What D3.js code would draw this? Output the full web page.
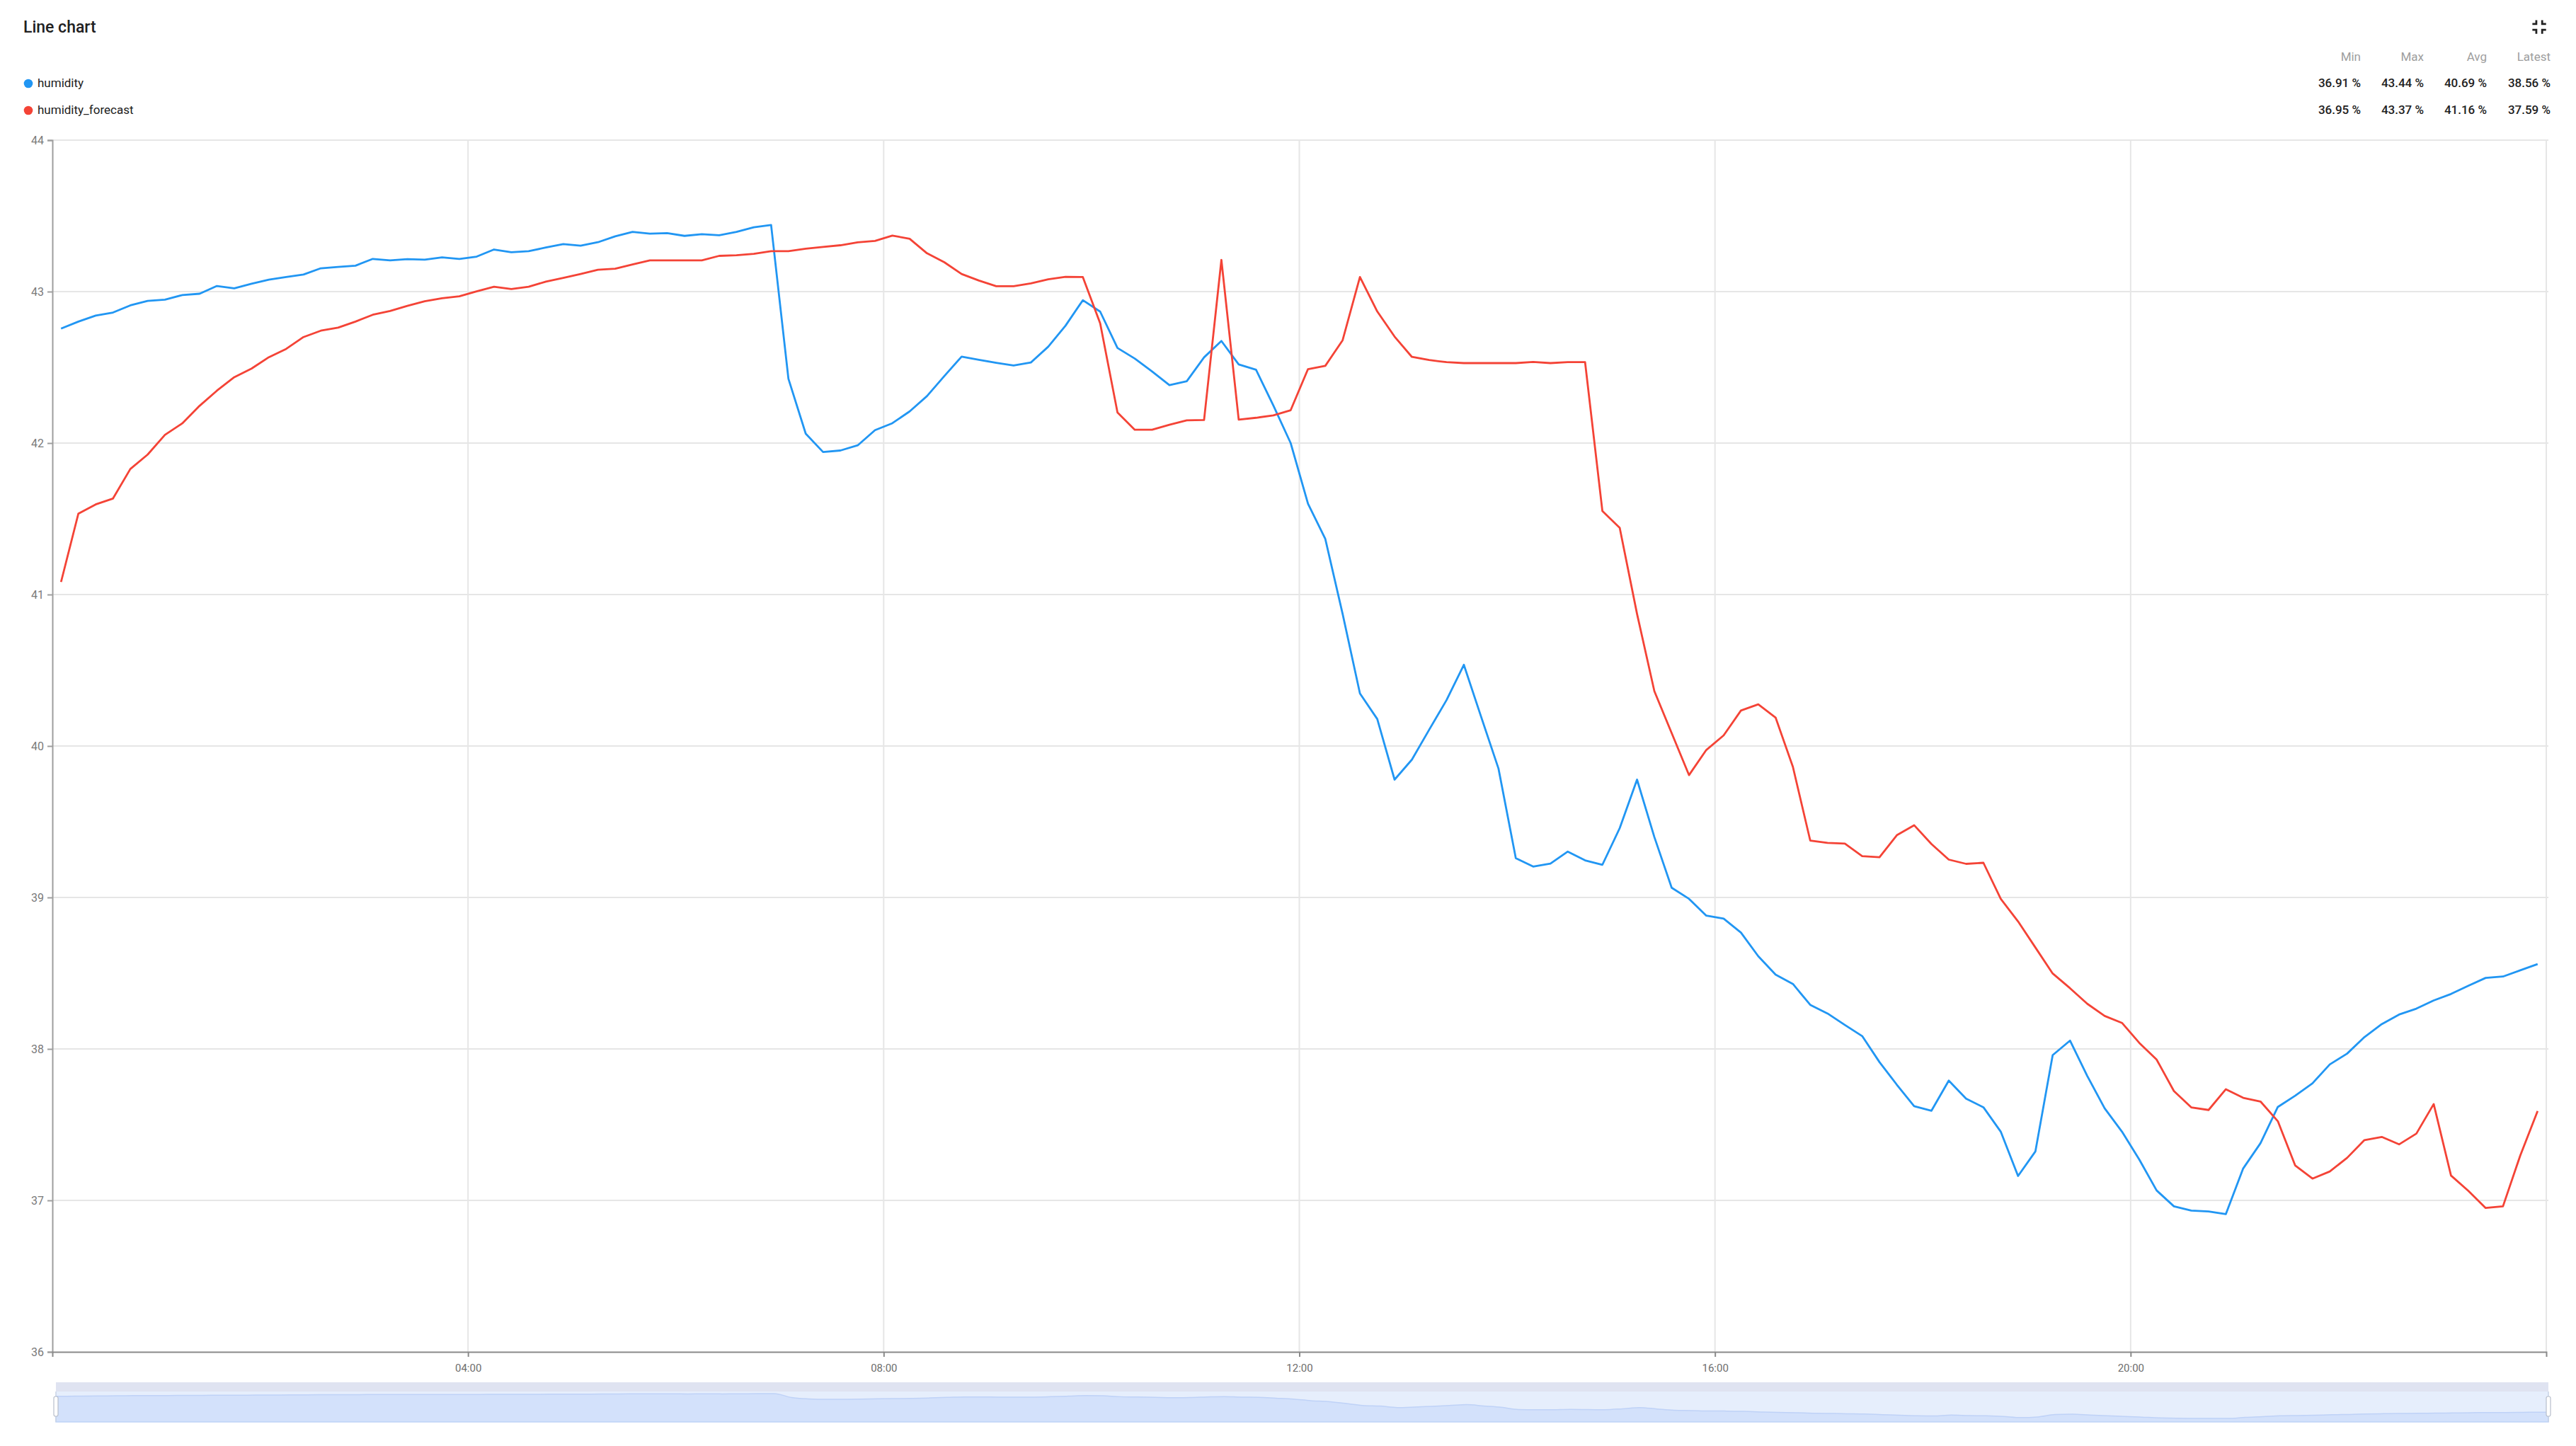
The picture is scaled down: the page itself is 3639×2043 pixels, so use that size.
<!DOCTYPE html>
<html>
<head>
<meta charset="utf-8">
<script src="https://cdn.jsdelivr.net/npm/d3@7"></script>
<style>
  html, body { margin: 0; padding: 0; background: #ffffff; }
  svg { display: block; font-family: Roboto, "Noto Sans", sans-serif; }
</style>
</head>
<body>
<svg id="chart" width="3639" height="2043"></svg>
<script>
// ---------------- DATA ----------------
const seriesNames = ["humidity", "humidity_forecast"];
const seriesColors = ["#2196f3", "#f44336"];
const statHeaders = ["Min", "Max", "Avg", "Latest"];
const humidityStats = ["36.91 %", "43.44 %", "40.69 %", "38.56 %"];
const forecastStats = ["36.95 %", "43.37 %", "41.16 %", "37.59 %"];
const yTicks = [36, 37, 38, 39, 40, 41, 42, 43, 44];
const xTickHours = [4, 8, 12, 16, 20];
const xTickLabels = ["04:00", "08:00", "12:00", "16:00", "20:00"];
// samples every 10 minutes starting 00:05
const startMinute = 5;
const stepMinutes = 10;

const humidity = [
  42.756, 42.802, 42.842, 42.862, 42.909, 42.939, 42.947, 42.977, 42.986, 43.037,
  43.022, 43.052, 43.079, 43.096, 43.113, 43.154, 43.163, 43.171, 43.216, 43.206,
  43.214, 43.211, 43.226, 43.216, 43.231,
  43.278, 43.260, 43.267, 43.291, 43.314, 43.303, 43.326, 43.365, 43.394, 43.383,
  43.386, 43.368, 43.379, 43.372, 43.394, 43.425, 43.44, 42.425, 42.062, 41.941,
  41.951, 41.985, 42.085, 42.131,
  42.209, 42.310, 42.442, 42.571, 42.550, 42.530, 42.512, 42.532, 42.636, 42.775,
  42.943, 42.868, 42.628, 42.558, 42.473, 42.383, 42.408, 42.566, 42.674, 42.519,
  42.484, 42.248, 42.000,
  41.600, 41.367, 40.872, 40.347, 40.178, 39.778, 39.910, 40.108, 40.303, 40.536,
  40.192, 39.851, 39.259, 39.204, 39.224, 39.303, 39.245, 39.216, 39.458, 39.778,
  39.399, 39.064, 38.991, 38.880, 38.860,
  38.768, 38.612, 38.491, 38.429, 38.291, 38.234, 38.158, 38.085, 37.913, 37.764,
  37.622, 37.592, 37.791, 37.672, 37.615, 37.454, 37.161, 37.323, 37.959, 38.055,
  37.821, 37.608, 37.454, 37.270,
  37.066, 36.961, 36.933, 36.927, 36.910, 37.211, 37.378, 37.617, 37.691, 37.773,
  37.898, 37.969, 38.078, 38.164, 38.227, 38.266, 38.320, 38.363, 38.417, 38.469,
  38.478, 38.519, 38.560
];

const humidityForecast = [
  41.083, 41.534, 41.595, 41.634, 41.829, 41.924, 42.054, 42.130, 42.246, 42.346,
  42.435, 42.492, 42.567, 42.622, 42.700, 42.742, 42.762, 42.802, 42.847, 42.872,
  42.906, 42.936, 42.956, 42.969, 43.002,
  43.032, 43.017, 43.032, 43.066, 43.090, 43.116, 43.144, 43.151, 43.179, 43.206,
  43.206, 43.206, 43.206, 43.236, 43.240, 43.249, 43.267, 43.267, 43.283, 43.295,
  43.306, 43.325, 43.335, 43.370,
  43.349, 43.253, 43.194, 43.116, 43.073, 43.036, 43.036, 43.054, 43.081, 43.098,
  43.096, 42.791, 42.202, 42.088, 42.088, 42.121, 42.150, 42.152, 43.209, 42.155,
  42.167, 42.183, 42.217,
  42.488, 42.510, 42.679, 43.096, 42.869, 42.703, 42.569, 42.548, 42.534, 42.528,
  42.528, 42.528, 42.528, 42.536, 42.528, 42.534, 42.534, 41.551, 41.440, 40.872,
  40.362, 40.085, 39.808, 39.974, 40.070,
  40.234, 40.275, 40.188, 39.862, 39.376, 39.360, 39.356, 39.273, 39.266, 39.411,
  39.477, 39.353, 39.250, 39.222, 39.229, 38.991, 38.842, 38.670, 38.498, 38.401,
  38.298, 38.218, 38.172, 38.040,
  37.930, 37.722, 37.614, 37.597, 37.734, 37.677, 37.653, 37.523, 37.231, 37.144,
  37.191, 37.281, 37.398, 37.419, 37.370, 37.441, 37.636, 37.164, 37.063, 36.950,
  36.961, 37.297, 37.590
];

// ---------------- CHART ----------------
const svg = d3.select("#chart");
const W = 3639, H = 2043;
const margin = { left: 74, right: 42, top: 198, bottom: 133 };
const day0 = new Date(2024, 0, 1, 0, 0, 0);
const timeAt = i => new Date(day0.getTime() + (startMinute + i * stepMinutes) * 60000);
const hourDate = h => new Date(day0.getTime() + h * 3600000);

const x = d3.scaleTime()
  .domain([hourDate(0), hourDate(24)])
  .range([margin.left, W - margin.right]);
const y = d3.scaleLinear()
  .domain([36, 44])
  .range([H - margin.bottom, margin.top]);

const plotLeft = margin.left, plotRight = W - margin.right;
const plotTop = margin.top, plotBottom = y(36);

// Title
svg.append("text")
  .attr("x", 33).attr("y", 46)
  .attr("font-size", 23).attr("font-weight", 500).attr("fill", "#212121")
  .text("Line chart");

// Fullscreen-exit icon
svg.append("path")
  .attr("d", "M5 16h3v3h2v-5H5v2zm3-8H5v2h5V5H8v3zm6 11h2v-3h3v-2h-5v5zm2-11V5h-2v5h5V8h-3z")
  .attr("transform", "translate(3570.5,21.5) scale(1.38)")
  .attr("fill", "#212121");

// Legend
const legendRows = [humidityStats, forecastStats];
seriesNames.forEach((name, i) => {
  const cy = 118 + i * 38;
  svg.append("circle").attr("cx", 40).attr("cy", cy).attr("r", 6.3).attr("fill", seriesColors[i]);
  svg.append("text").attr("x", 53).attr("y", cy + 5)
    .attr("font-size", 17).attr("fill", "#212121").text(name);
});

// Stats table
const statCols = [3335, 3424, 3513, 3603];
statHeaders.forEach((h, j) => {
  svg.append("text").attr("x", statCols[j]).attr("y", 86)
    .attr("text-anchor", "end").attr("font-size", 17).attr("fill", "#9e9e9e").text(h);
});
legendRows.forEach((row, i) => {
  row.forEach((v, j) => {
    svg.append("text").attr("x", statCols[j]).attr("y", 123 + i * 38)
      .attr("text-anchor", "end").attr("font-size", 17).attr("font-weight", 500)
      .attr("fill", "#212121").text(v);
  });
});

// Grid
const grid = svg.append("g");
yTicks.forEach(t => {
  if (t === 36) return;
  grid.append("line")
    .attr("x1", plotLeft).attr("x2", plotRight + 3)
    .attr("y1", y(t)).attr("y2", y(t))
    .attr("stroke", "#e6e6e6").attr("stroke-width", 2);
});
xTickHours.forEach(h => {
  grid.append("line")
    .attr("x1", x(hourDate(h))).attr("x2", x(hourDate(h)))
    .attr("y1", plotTop).attr("y2", plotBottom)
    .attr("stroke", "#e6e6e6").attr("stroke-width", 2);
});
grid.append("line")
  .attr("x1", plotRight).attr("x2", plotRight)
  .attr("y1", plotTop).attr("y2", plotBottom)
  .attr("stroke", "#e6e6e6").attr("stroke-width", 2);

// Y axis
const yAxis = svg.append("g")
  .attr("transform", `translate(${plotLeft},0)`)
  .call(d3.axisLeft(y).tickValues(yTicks).tickSize(7).tickPadding(5).tickFormat(d3.format("d")));
yAxis.select(".domain").attr("stroke", "#9e9e9e").attr("stroke-width", 2);
yAxis.selectAll(".tick line").attr("stroke", "#9e9e9e").attr("stroke-width", 2);
yAxis.selectAll("text").attr("font-size", 16).attr("fill", "#7a7a7a")
  .attr("font-family", "Roboto, sans-serif");

// X axis
const xAxis = svg.append("g")
  .attr("transform", `translate(0,${plotBottom})`)
  .call(d3.axisBottom(x).tickValues(xTickHours.map(hourDate)).tickSize(7).tickPadding(10)
    .tickFormat((d, i) => xTickLabels[i]));
xAxis.select(".domain").attr("stroke", "#8a8a8a").attr("stroke-width", 2);
xAxis.selectAll(".tick line").attr("stroke", "#8a8a8a").attr("stroke-width", 2);
xAxis.selectAll("text").attr("font-size", 15).attr("fill", "#6e6e6e")
  .attr("font-family", "Roboto, sans-serif");

// Lines
const line = d3.line()
  .x((d, i) => x(timeAt(i)))
  .y(d => y(d));
[humidity, humidityForecast].forEach((data, i) => {
  svg.append("path")
    .datum(data)
    .attr("d", line)
    .attr("fill", "none")
    .attr("stroke", seriesColors[i])
    .attr("stroke-width", 2.8)
    .attr("stroke-linejoin", "round");
});

// Navigator (data zoom slider)
const navTop = 1953, navBottom = 2009, navBandBottom = 1966;
const navLeft = 79, navRight = 3600;
const nx = d3.scaleTime().domain([hourDate(0), hourDate(24)]).range([navLeft, navRight]);
const ny = d3.scaleLinear().domain([36, 44]).range([navBottom, navBandBottom]);
svg.append("rect").attr("x", navLeft).attr("y", navTop)
  .attr("width", navRight - navLeft).attr("height", navBandBottom - navTop)
  .attr("fill", "#dfe3f1");
svg.append("rect").attr("x", navLeft).attr("y", navBandBottom)
  .attr("width", navRight - navLeft).attr("height", navBottom - navBandBottom)
  .attr("fill", "#e6eefc");
const navData = [humidity[0], ...humidity, humidity[humidity.length - 1]];
const navArea = d3.area()
  .x((d, i) => i === 0 ? navLeft : (i === navData.length - 1 ? navRight : nx(timeAt(i - 1))))
  .y0(navBottom)
  .y1(d => ny(d))
  .curve(d3.curveMonotoneX);
svg.append("path").datum(navData).attr("d", navArea)
  .attr("fill", "#d3e1fb").attr("stroke", "#bfd2f7").attr("stroke-width", 1.5);
// handles
[navLeft, navRight].forEach(hx => {
  svg.append("line").attr("x1", hx).attr("x2", hx).attr("y1", navBandBottom).attr("y2", navBottom)
    .attr("stroke", "#c9d3e6").attr("stroke-width", 1.5);
  svg.append("rect").attr("x", hx - 3).attr("y", 1973).attr("width", 6).attr("height", 28)
    .attr("rx", 2.5).attr("fill", "#ffffff").attr("stroke", "#b8bfcc").attr("stroke-width", 1.2);
});
</script>
</body>
</html>
